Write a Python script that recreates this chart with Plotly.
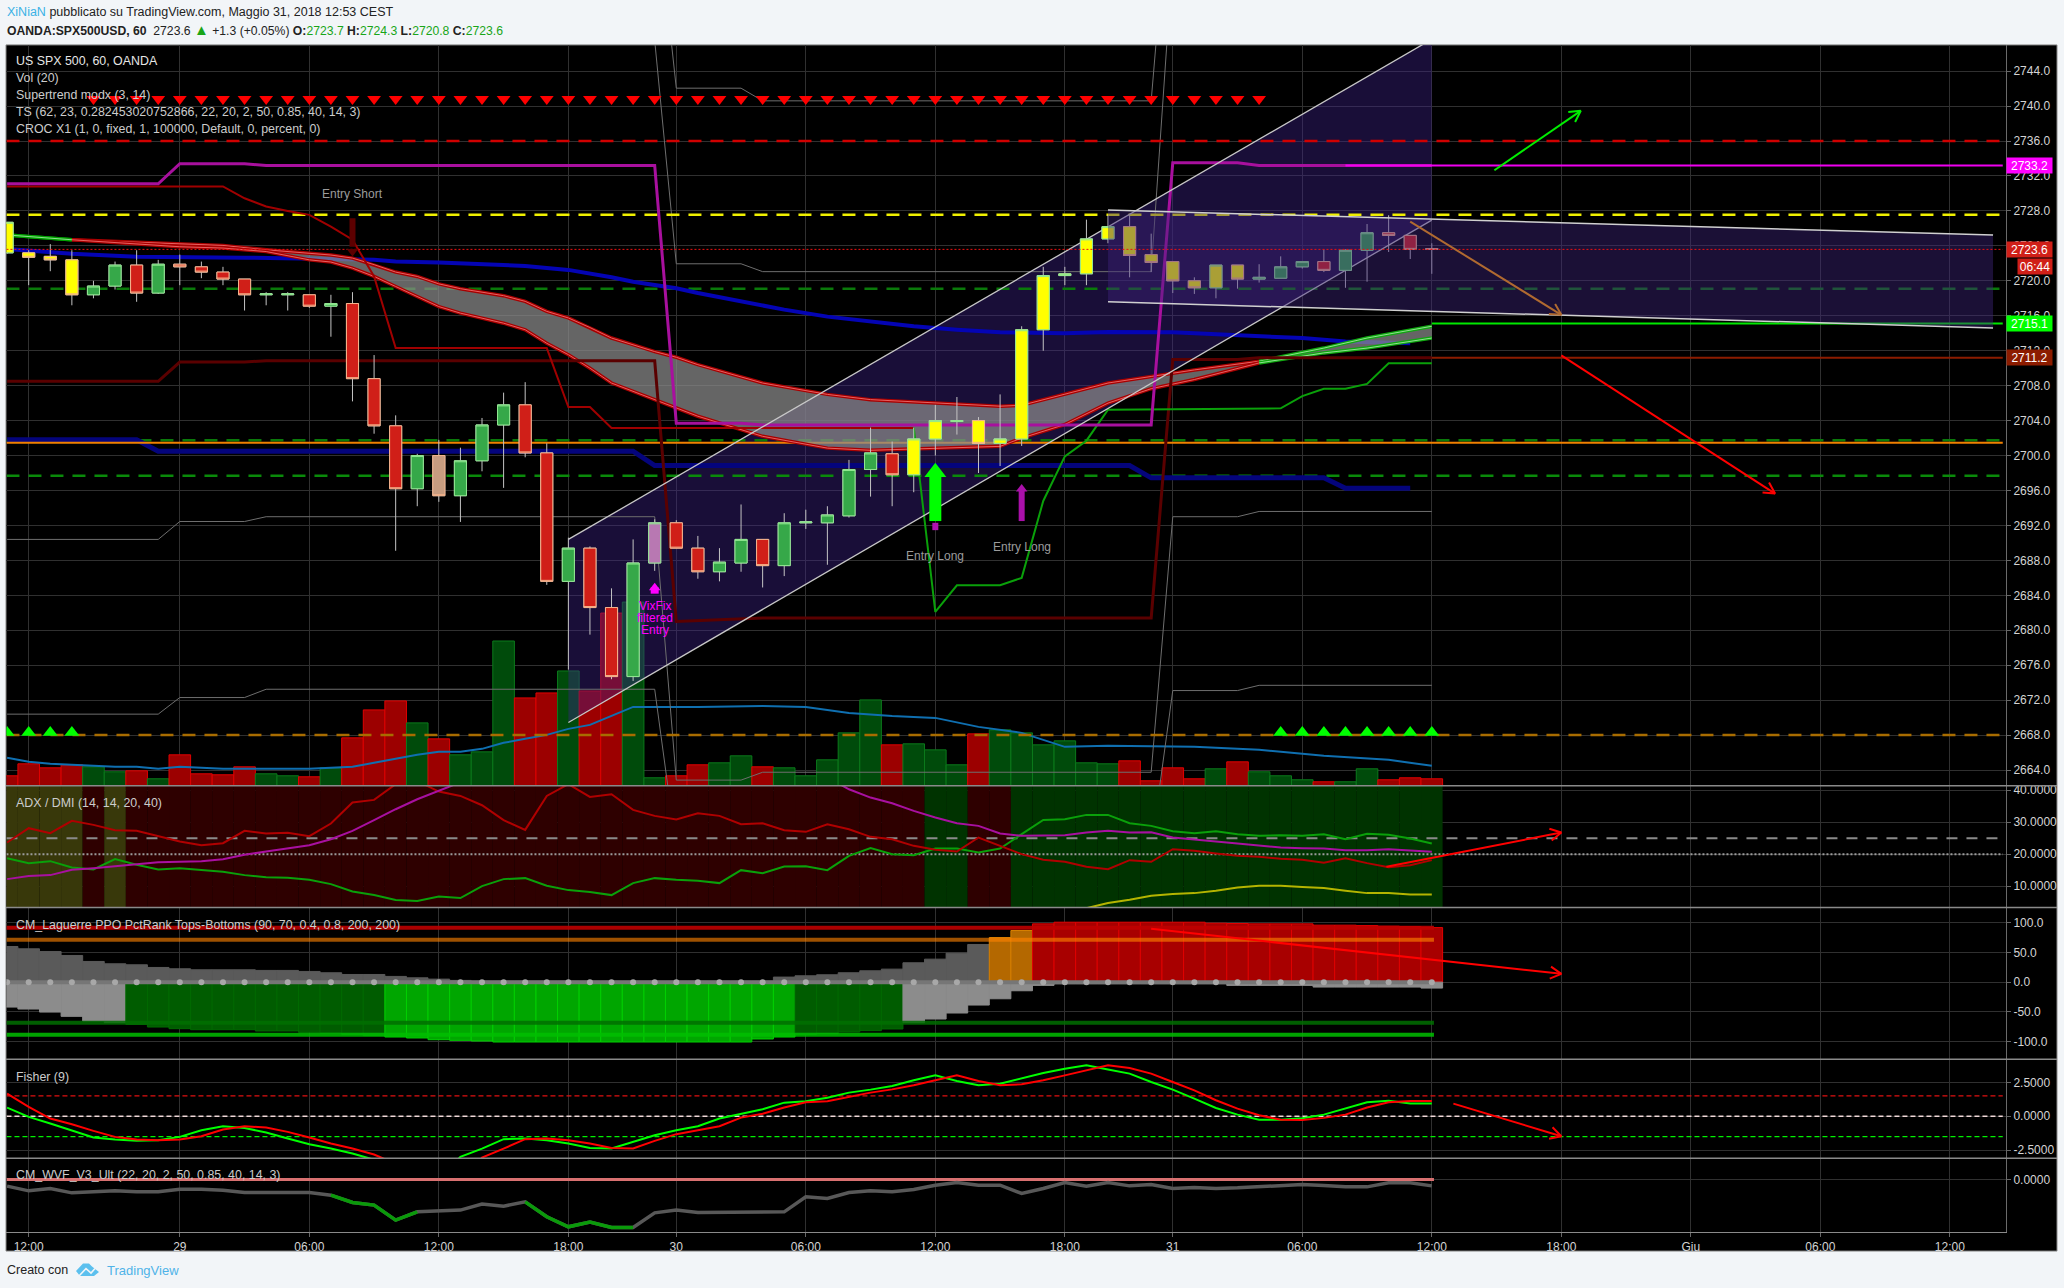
import plotly.graph_objects as go

W, H = 2064, 1288
L_PX, R_PX = 6.4, 2006.0
def px(x): return x / W
def py(y): return 1 - y / H

# ---------- time axis ----------
bar_x = list(range(-1, 66))
tick_pos = [0, 7, 13, 19, 25, 30, 36, 42, 48, 53, 59, 65, 71, 77, 83, 89]
tick_lab = ["12:00", "29", "06:00", "12:00", "18:00", "30", "06:00", "12:00", "18:00", "31", "06:00", "12:00", "18:00", "Giu", "06:00", "12:00"]
X_RANGE = [-1.033, 91.6]
X_END = 91.45

# ---------- candles ----------
open_ = [2723.2,2723.2,2722.8,2722.4,2718.4,2719.4,2721.8,2718.6,2721.9,2721.6,2721.0,2720.2,2718.4,2718.4,2718.4,2717.1,2717.4,2708.8,2703.4,2696.2,2700.0,2695.4,2699.4,2703.5,2705.8,2700.3,2685.6,2689.4,2682.6,2674.7,2687.7,2692.3,2689.4,2686.7,2687.7,2690.4,2687.4,2692.3,2692.3,2693.1,2698.4,2700.2,2697.8,2701.9,2703.9,2704.0,2701.4,2701.9,2714.4,2720.6,2720.8,2724.8,2726.2,2723.0,2722.2,2720.0,2719.2,2721.8,2720.2,2720.3,2721.6,2722.2,2721.2,2723.5,2725.5,2725.2,2723.7]
high_ = [2726.7,2723.5,2724.2,2723.5,2720.0,2722.2,2723.5,2722.4,2723.0,2722.2,2721.6,2720.2,2718.7,2718.7,2718.4,2718.4,2718.7,2711.5,2704.6,2700.2,2701.8,2700.9,2704.3,2707.2,2708.4,2701.4,2690.6,2689.6,2684.8,2690.4,2692.7,2692.6,2690.8,2689.4,2694.4,2690.4,2693.4,2693.8,2694.2,2699.5,2703.2,2701.6,2703.2,2705.8,2706.7,2704.4,2707.0,2714.8,2721.6,2721.6,2727.0,2727.5,2727.5,2725.4,2722.2,2720.4,2721.8,2721.8,2721.9,2722.8,2722.2,2723.6,2723.6,2726.5,2727.5,2725.2,2724.3]
low_ = [2723.1,2719.5,2721.1,2717.2,2718.0,2719.0,2717.6,2718.5,2719.5,2720.3,2719.5,2716.6,2717.2,2716.6,2716.9,2713.6,2706.2,2702.5,2689.1,2694.2,2694.7,2692.4,2698.2,2696.3,2699.8,2685.2,2675.5,2679.5,2674.4,2674.2,2686.8,2689.4,2685.9,2685.6,2686.7,2684.9,2686.2,2691.6,2687.5,2692.9,2695.3,2694.2,2695.8,2700.0,2702.4,2698.0,2698.8,2701.1,2712.0,2719.5,2719.5,2724.3,2720.4,2721.0,2718.6,2718.5,2718.0,2719.1,2719.8,2720.3,2721.4,2721.0,2719.2,2719.9,2723.3,2722.5,2720.8]
close_ = [2726.7,2722.7,2722.4,2718.4,2719.4,2721.8,2718.6,2721.9,2721.6,2721.0,2720.2,2718.4,2718.5,2718.5,2717.1,2717.4,2708.8,2703.4,2696.2,2700.0,2695.4,2699.4,2703.5,2705.8,2700.3,2685.6,2689.4,2682.6,2674.7,2687.7,2692.3,2689.4,2686.7,2687.8,2690.4,2687.4,2692.3,2692.4,2693.2,2698.4,2700.3,2697.8,2701.9,2704.0,2704.0,2701.4,2701.9,2714.4,2720.6,2720.8,2724.8,2726.2,2722.9,2722.1,2720.0,2719.2,2721.8,2720.2,2720.4,2721.6,2722.2,2721.2,2723.5,2725.5,2725.2,2723.6,2723.6]
candle_kind = "yyyyggrgrrrrggrgrrrgTgggrrgrrgPrrggrggggg" + "ryygyyyyyyyyyyyyygggrggrrr"
candle_fill = {"y": "#ffff00", "g": "#36a849", "r": "#d01f18", "T": "#c79c80", "P": "#b878b2"}

# ---------- volume ----------
volume = [10,22,18,21,19,14,15,7,31,12,11,19,12,10,9,18,48,76,85,63,47,31,34,145,88,93,115,95,173,184,8,10,21,23,30,19,18,10,26,53,86,41,42,36,21,52,56,53,41,45,23,22,25,5,18,7,17,24,14,10,6,4,4,17,6,8,7]
volume_kind = "rrrrggrgrrrrggrgrrrgrgggrrgrrggrrggrgggggrgggrggggggrrrrgrgggrggrrr"
vol_ma_x = [-1,0,1,2,3,4,5,6,7,8,9,10,11,12,13,14,15,16,17,18,19,20,21,22,23,24,25,26,27,28,29,31,34,36,38,40,42,44,46,48,50,54,57,60,63,65]
vol_ma = [28,24,22,21,20,19,19,17,19,18,17,17,17,17,17,18,19,23,27,31,34,34,37,43,47,51,57,61,70,79,79,79,80,79,73,70,68,59,53,39,40,39,36,30,26,20]

# ---------- price-panel levels and study lines ----------
level_red = 2736.0
level_yellow = 2727.55
level_green1 = 2719.1
level_green2 = 2701.75
level_orange = 2701.45
level_green3 = 2697.7
level_amber = 2668.0
last_price = 2723.6

st_x = [-1, 6, 7, 10, 11, 29, 30, 33, 34, 52, 53, 56, 57, 65]
st_y = [2731.1, 2731.1, 2733.4, 2733.4, 2733.2, 2733.2, 2703.7, 2703.7, 2703.5, 2703.5, 2733.5, 2733.5, 2733.2, 2733.2]
maroon_x = [-1, 6, 7, 10, 11, 29, 30, 34, 52, 53, 56, 57, 65]
maroon_y = [2708.5, 2708.5, 2710.7, 2710.7, 2710.85, 2710.85, 2681.0, 2681.4, 2681.4, 2711.0, 2711.0, 2711.2, 2711.2]
dkred_x = [-1, 9, 10, 11, 12, 13, 14, 15, 16, 17, 24, 25, 26, 27, 41]
dkred_y = [2730.8, 2730.8, 2729.45, 2728.5, 2728.0, 2727.55, 2726.2, 2724.7, 2720.5, 2712.3, 2712.3, 2705.55, 2705.55, 2703.15, 2703.15]
grn_x = [41, 42, 43, 45, 46, 47, 48, 49, 50, 58, 59, 60, 61, 62, 63, 65]
grn_y = [2703.2, 2682.1, 2685.15, 2685.15, 2686.0, 2694.8, 2699.9, 2701.7, 2705.25, 2705.4, 2706.8, 2707.65, 2707.65, 2708.2, 2710.55, 2710.55]
gray_a_x = [-1, 6, 7, 10, 11, 29, 30, 33, 34, 52, 53, 56, 57, 65]
gray_a_y = [2690.4, 2690.4, 2692.45, 2692.45, 2693.0, 2693.0, 2662.85, 2662.85, 2663.75, 2663.75, 2693.0, 2693.0, 2693.6, 2693.6]
gray_b_x = [-1, 6, 7, 10, 11, 29, 30, 52, 53, 56, 57, 65]
gray_b_y = [2670.4, 2670.4, 2672.3, 2672.3, 2673.25, 2673.25, 2655.0, 2655.0, 2673.1, 2673.1, 2673.7, 2673.7]
gray_c_x = [29, 30, 33, 34, 52, 53]
gray_c_y = [2765.0, 2742.05, 2742.05, 2740.6, 2740.6, 2770.0]
gray_d_x = [29, 30, 33, 34, 52, 53]
gray_d_y = [2747.5, 2721.95, 2721.95, 2721.05, 2721.05, 2757.0]
navy1_x = [-1, 2, 5, 7, 10, 16, 17, 19, 22, 23, 25, 26, 27, 28, 29, 30, 31, 33, 35, 37, 39, 41, 43, 45, 48, 50, 53, 55, 57, 59, 61, 64]
navy1_y = [2723.65, 2723.1, 2722.75, 2722.75, 2722.65, 2722.4, 2722.2, 2722.1, 2721.85, 2721.7, 2721.25, 2720.85, 2720.4, 2719.9, 2719.55, 2719.15, 2718.6, 2717.65, 2716.7, 2715.9, 2715.35, 2714.8, 2714.4, 2714.1, 2714.0, 2714.15, 2714.1, 2713.9, 2713.65, 2713.45, 2713.05, 2712.85]
navy2_x = [-1, 5, 6, 28, 29, 51, 52, 60, 61, 64]
navy2_y = [2701.8, 2701.8, 2700.5, 2700.5, 2698.85, 2698.85, 2697.45, 2697.45, 2696.25, 2696.25]

cloud_x = [-1,2,7,9,11,13,14,15,16,17,18,19,20,21,22,23,24,25,26,27,28,29,30,31,34,37,39,42,45,46,48,50,52,54,57,60,62,65]
cloud_up = [2725.25,2724.7,2724.25,2724.05,2723.55,2723.15,2722.95,2722.6,2721.85,2721.0,2720.5,2719.65,2719.1,2718.7,2718.3,2717.65,2716.5,2715.75,2714.65,2713.45,2712.7,2711.9,2711.25,2710.4,2708.3,2707.0,2706.4,2706.0,2705.65,2705.75,2707.0,2708.3,2709.05,2709.8,2710.8,2712.3,2713.45,2714.8]
cloud_lo = [2725.25,2724.7,2723.9,2723.75,2723.35,2722.4,2722.15,2721.45,2720.5,2719.35,2718.2,2717.05,2716.3,2715.75,2715.15,2714.4,2712.85,2711.55,2710.0,2708.3,2707.35,2706.4,2705.45,2704.5,2702.2,2700.85,2700.6,2700.85,2701.05,2702.0,2703.55,2706.0,2707.65,2708.7,2710.6,2711.75,2712.3,2713.45]
cloud_red_from, cloud_red_to = 1, 34   # positions in cloud_x where the ribbon turns red / green again

chan1_x = [25, 65]
chan1_up = [2690.4, 2747.65]
chan1_lo = [2669.45, 2726.95]
chan2_x = [50, 91]
chan2_up = [2728.1, 2725.25]
chan2_lo = [2717.6, 2714.6]

tri_dn_x = list(range(3, 58))
tri_dn_y = 2740.8
tri_up_x = [-1, 0, 1, 2, 58, 59, 60, 61, 62, 63, 64, 65]
tri_up_y = 2668.3

# ---------- ADX / DMI ----------
adx_state = "oooorO" .replace("O", "o") + "r" * 37 + "gg" + "rr" + "g" * 20
di_minus = [23.65,28.13,26.56,30.42,29.17,27.5,27.29,25.73,23.96,22.81,23.44,27.29,26.46,26.67,25.63,29.58,36.15,36.98,41.9,42.9,39.58,38.23,35.31,30.63,27.6,38.23,41.9,37.92,38.75,33.85,31.98,30.83,32.81,31.98,29.38,29.69,27.5,26.98,29.38,27.81,25.42,24.69,22.6,21.35,20.83,25.21,22.6,20.0,18.23,17.6,16.04,15.31,18.13,17.6,21.56,21.04,20.21,19.48,19.17,18.54,18.23,17.29,18.75,17.19,15.94,16.56,18.13]
di_plus = [18.75,17.19,17.81,15.83,15.21,18.44,16.67,15.21,15.63,15.0,14.48,13.44,12.81,12.6,11.98,10.63,8.33,7.19,5.63,5.31,6.77,6.25,10.0,12.19,12.5,10.1,8.75,8.13,7.19,10.94,12.5,11.98,11.67,10.94,15.0,14.06,16.15,16.25,15.0,19.48,21.88,20.0,19.69,21.77,21.77,20.52,21.77,26.25,30.73,30.94,32.29,32.29,29.69,28.85,27.19,26.56,27.19,26.25,25.73,25.94,25.73,26.25,24.69,26.35,26.04,24.9,23.33]
adx_x = [-1,0,1,2,3,4,5,6,7,8,9,10,11,12,13,14,15,16,17,18,19,20,21,37,38,39,40,41,42,43,44,45,46,47,48,49,50,51,52,53,54,55,56,57,58,59,60,61,62,63,64,65]
adx_val = [12.19,13.13,13.44,15.1,15.63,16.15,16.88,17.5,17.71,17.81,18.44,19.79,20.83,21.88,22.81,24.69,27.29,30.63,34.06,37.19,39.79,42.5,46.0,44.0,40.3,37.71,35.94,33.54,31.46,29.69,28.85,26.46,25.73,25.73,25.94,26.77,27.29,26.77,26.88,25.21,24.48,23.96,23.33,22.71,22.08,21.88,21.77,21.25,21.25,21.56,21.25,20.73]
adxr_x = [48,49,50,51,52,53,54,55,56,57,58,59,60,61,62,63,64,65]
adxr_val = [1.5,3.2,4.69,5.73,6.98,7.5,7.81,8.54,9.58,10.1,10.1,9.69,9.38,8.54,7.81,7.81,7.4,7.4]
adx_levels = [25, 20]

# ---------- Laguerre ----------
lag_top = [60,56.1,51.6,44.9,34.8,30.9,29.2,24.7,22.5,20.8,20.8,20.8,19.7,19.7,18,15.8,12.9,12.9,9.6,7.3,5.1,2.9,1.7,1.7,1.7,1.7,1.7,1.7,1.7,1.7,1.7,1.7,1.7,1.7,1.7,1.7,8.5,10.7,12.4,15.8,19.1,21.9,32.6,38.7,48.8,63.4,75.1,86.9,98.1,100.9,100.9,100.9,100.9,100.9,100.9,100.9,99.2,98.7,98.1,98.1,98.1,95.9,95.9,95.3,94.2,93.6,91.9]
lag_bot = [-42,-45.3,-50.4,-57.6,-65.5,-68.3,-71.1,-75.6,-78.4,-80.1,-80.1,-80.1,-82.3,-82.3,-84.5,-85.6,-87.9,-90.1,-92.4,-94,-96.9,-98,-99.1,-100.8,-100.8,-100.8,-100.8,-100.8,-100.8,-100.8,-100.8,-100.8,-100.8,-100.8,-100.8,-95.7,-92.4,-87.9,-86.8,-84,-81.7,-78.9,-68.3,-62.1,-52,-38.6,-28,-14.5,-5.5,-2.7,-2.7,-2.7,-2.7,-2.7,-2.7,-2.7,-2.7,-5.5,-5.5,-5.5,-5.5,-8.3,-8.3,-8.3,-8.3,-8.3,-10]
lag_top_kind = "d" * 46 + "oo" + "R" * 19
lag_bot_kind = "l" * 6 + "G" * 12 + "B" * 19 + "G" * 5 + "l" * 25
lag_zero = [0] * 67
lag_lines = [91.4, 71.2, -68.3, -88.5]

# ---------- Fisher ----------
fisher = [0.64,-0.05,-0.54,-1.08,-1.57,-1.72,-1.81,-1.77,-1.52,-1.03,-0.74,-0.86,-1.20,-1.64,-2.06,-2.38,-2.75,-3.2,-3.9,-4.6,-4.6,-2.99,-2.38,-1.69,-1.64,-1.77,-2.01,-2.33,-2.38,-1.89,-1.40,-1.03,-0.74,-0.17,0.15,0.51,1.00,1.10,1.37,1.74,1.96,2.23,2.65,3.01,2.60,2.28,2.40,2.77,3.19,3.50,3.75,3.45,3.14,2.52,1.96,1.30,0.61,0.12,-0.25,-0.25,-0.15,0.12,0.56,1.03,1.15,0.93,0.93]
trigger = [1.67,0.69,-0.17,-0.59,-1.08,-1.52,-1.72,-1.77,-1.72,-1.47,-0.98,-0.74,-0.83,-1.15,-1.57,-2.01,-2.38,-2.82,-3.5,-4.2,-4.9,-4.9,-3.04,-2.38,-1.69,-1.64,-1.77,-2.01,-2.33,-2.38,-1.81,-1.32,-1.03,-0.74,-0.10,0.19,0.64,1.03,1.10,1.42,1.74,1.98,2.28,2.65,3.01,2.60,2.28,2.35,2.65,3.01,3.38,3.75,3.55,3.14,2.52,1.91,1.18,0.56,0.07,-0.25,-0.27,-0.12,0.12,0.64,1.03,1.13,1.13]
fisher_levels = [1.5, 0.0, -1.5]

# ---------- WVF ----------
wvf = [-6.7,-11.4,-9.0,-13.4,-12.4,-11.4,-12.4,-12.4,-9.7,-9.7,-10.7,-13,-13,-13,-13,-15.7,-23,-25.7,-40.7,-32.4,-31.4,-30.7,-24.7,-26.7,-22.4,-37.4,-47.4,-42.7,-48,-48,-33.4,-30.7,-33,-33,-32.4,-33,-32.4,-17.4,-19,-13,-11.4,-12.4,-10,-5.7,-3,-5.7,-5.7,-14,-9,-3,-6.7,-3,-6.4,-5,-9,-8,-9,-8.4,-7.4,-6.4,-5,-6,-7.4,-7.4,-3.4,-3.4,-6.4]
wvf_green1 = (14, 18)   # bars coloured green
wvf_green2 = (23, 28)

# ---------- hand-drawn arrows: start bar, start value, tip bar, tip value, colour, axis, px-per-unit ----------
arrows = [
    (67.9, 2732.66, 71.9, 2739.46, "#00ee00", "y7", 8.75),
    (64.0, 2726.78, 71.0, 2716.11, "#b06a30", "y7", 8.75),
    (71.0, 2711.46, 80.9, 2695.65, "#ff0000", "y7", 8.75),
    (62.9, 16.04, 71.0, 26.77, "#ff0000", "y3", 3.2),
    (52.0, 89.7, 71.0, 14.0, "#ff0000", "y4", 0.595),
    (66.0, 0.93, 71.0, -1.47, "#ff0000", "y5", 13.6),
]

Y_MAIN = [2662.2, 2747.0]
Y_VOL = [0, 742]
Y_ADX = [3.28, 41.4]
Y_LAG = [-130.0, 125.5]
Y_FIS = [-3.09, 4.19]
Y_WVF = [-52.7, 21.3]
main_ticks = list(range(2664, 2748, 4))

fig = go.Figure()
def line(x, y, axis, color, width=1.0, dash=None, shape="linear"):
    fig.add_trace(go.Scatter(x=x, y=y, xaxis="x", yaxis=axis, mode="lines",
                             line=dict(color=color, width=width, dash=dash, shape=shape),
                             hoverinfo="skip", showlegend=False))
FULL = [-1.03, X_END]

# volume (base layer)
fig.add_trace(go.Bar(x=bar_x, y=volume, xaxis="x", yaxis="y", width=1,
                     marker=dict(color=["#9c0000" if k == "r" else "#004b0b" for k in volume_kind],
                                 line=dict(color=["#e00000" if k == "r" else "#0b7a1c" for k in volume_kind], width=1)),
                     hoverinfo="skip", showlegend=False))
line(vol_ma_x, vol_ma, "y", "#0f6fb0", 2)

# study layer under the candles
fig.add_trace(go.Scatter(x=[chan1_x[0], chan1_x[1], chan1_x[1], chan1_x[0]],
                         y=[chan1_up[0], chan1_up[1], chan1_lo[1], chan1_lo[0]],
                         xaxis="x", yaxis="y2", mode="lines", fill="toself", line=dict(width=0),
                         fillcolor="rgba(62,36,140,0.40)", hoverinfo="skip", showlegend=False))
line(gray_a_x, gray_a_y, "y2", "#6e6e6e", 1)
line(gray_b_x, gray_b_y, "y2", "#6e6e6e", 1)
line(gray_c_x, gray_c_y, "y2", "#6e6e6e", 1)
line(gray_d_x, gray_d_y, "y2", "#6e6e6e", 1)
line(FULL, [level_red] * 2, "y2", "#d00000", 2.5, "13px,9px")
line(FULL, [level_yellow] * 2, "y2", "#f0f000", 2.5, "13px,9px")
line(FULL, [level_green1] * 2, "y2", "#0a7a0a", 2.5, "13px,9px")
line(FULL, [level_green2] * 2, "y2", "#0a7a0a", 2.5, "13px,9px")
line(FULL, [level_green3] * 2, "y2", "#0a8a0a", 2.5, "13px,9px")
line(FULL, [level_amber] * 2, "y2", "#a86c00", 2.5, "13px,9px")
line(navy2_x, navy2_y, "y2", "#04047c", 5)
line(navy1_x, navy1_y, "y2", "#0404b4", 4)
line(FULL, [level_orange] * 2, "y2", "#f08000", 2)
fig.add_trace(go.Scatter(x=cloud_x + cloud_x[::-1], y=cloud_up + cloud_lo[::-1], xaxis="x", yaxis="y2",
                         mode="lines", fill="toself", line=dict(width=0),
                         fillcolor="rgba(140,140,140,0.72)", hoverinfo="skip", showlegend=False))
a, b = cloud_red_from, cloud_red_to + 1
for ys in (cloud_up, cloud_lo):
    line(cloud_x[a:b], ys[a:b], "y2", "#a80000", 3.5)
    line(cloud_x[a:b], ys[a:b], "y2", "#e86060", 1)
    line(cloud_x[:a + 1], ys[:a + 1], "y2", "#00a000", 3.5)
    line(cloud_x[b - 1:], ys[b - 1:], "y2", "#10a810", 3.5)
    line(cloud_x[:a + 1], ys[:a + 1], "y2", "#90e090", 1)
    line(cloud_x[b - 1:], ys[b - 1:], "y2", "#90e090", 1)
line(maroon_x, maroon_y, "y2", "#5a0000", 3)
line(dkred_x, dkred_y, "y2", "#a00000", 2)
line(grn_x, grn_y, "y2", "#0aa00a", 2)
line(st_x, st_y, "y2", "#a8109e", 3)
line([61, X_END], [2733.2] * 2, "y2", "#f000f0", 2)
line([65, X_END], [2711.2] * 2, "y2", "#8c1c00", 2)
line([65, X_END], [2715.1] * 2, "y2", "#00e800", 2)
line(chan1_x, chan1_up, "y2", "#c8c8c8", 1.3)
line(chan1_x, chan1_lo, "y2", "#c8c8c8", 1.3)

# candles: wicks, then bodies by colour
fig.add_trace(go.Candlestick(x=bar_x, open=open_, high=high_, low=low_, close=close_, xaxis="x", yaxis="y7",
                             whiskerwidth=0,
                             increasing=dict(line=dict(color="#c4c4c4", width=1), fillcolor="rgba(0,0,0,0)"),
                             decreasing=dict(line=dict(color="#c4c4c4", width=1), fillcolor="rgba(0,0,0,0)"),
                             hoverinfo="skip", showlegend=False))
for kind, col in candle_fill.items():
    o = [v if k == kind else None for v, k in zip(open_, candle_kind)]
    c = [v if k == kind else None for v, k in zip(close_, candle_kind)]
    hi = [None if p is None else max(p, q) for p, q in zip(o, c)]
    lo = [None if p is None else min(p, q) for p, q in zip(o, c)]
    fig.add_trace(go.Candlestick(x=bar_x, open=o, high=hi, low=lo, close=c, xaxis="x", yaxis="y7",
                                 whiskerwidth=0,
                                 increasing=dict(line=dict(color="#90e890", width=1), fillcolor=col),
                                 decreasing=dict(line=dict(color="#f6b48c", width=1), fillcolor=col),
                                 hoverinfo="skip", showlegend=False))

# things over the candles
fig.add_trace(go.Scatter(x=[chan2_x[0], chan2_x[1], chan2_x[1], chan2_x[0]],
                         y=[chan2_up[0], chan2_up[1], chan2_lo[1], chan2_lo[0]],
                         xaxis="x", yaxis="y7", mode="lines", fill="toself", line=dict(width=0),
                         fillcolor="rgba(61,36,123,0.44)", hoverinfo="skip", showlegend=False))
line(chan2_x, chan2_up, "y7", "#d0d0d0", 1.5)
line(chan2_x, chan2_lo, "y7", "#d0d0d0", 1.5)
line([-1.03, X_END], [last_price] * 2, "y7", "#f01010", 1, "2px,2px")

def marks(x, y, sym, col, size, axis="y7"):
    fig.add_trace(go.Scatter(x=x, y=y, xaxis="x", yaxis=axis, mode="markers",
                             marker=dict(symbol=sym, color=col, size=size, line=dict(width=0)),
                             hoverinfo="skip", showlegend=False))
marks(tri_dn_x, [tri_dn_y] * len(tri_dn_x), "triangle-down", "#ff0000", 12)
marks(tri_up_x, [tri_up_y] * len(tri_up_x), "triangle-up", "#00ff00", 13)
# entry arrows
line([15, 15], [2727.16, 2723.9], "y7", "#5c0000", 6)
marks([15], [2723.35], "triangle-down", "#5c0000", 10)
line([42, 42], [2691.46, 2692.3], "y7", "#b010b0", 6)
line([42, 42], [2692.5, 2697.6], "y7", "#00ff00", 12)
marks([42], [2698.08], "triangle-up", "#00ff00", 19)
line([46, 46], [2692.5, 2696.0], "y7", "#aa10aa", 6)
marks([46], [2696.17], "triangle-up", "#aa10aa", 10)
line([29, 29], [2684.19, 2684.9], "y7", "#ff00ff", 8)
marks([29], [2684.87], "triangle-up", "#ff00ff", 10)

# ADX panel
adx_colors = {"o": "#38380a", "r": "#2e0000", "g": "#003300"}
fig.add_trace(go.Bar(x=bar_x, y=[Y_ADX[1] - Y_ADX[0]] * 67, base=Y_ADX[0], xaxis="x", yaxis="y3", width=1,
                     marker=dict(color=[adx_colors[s] for s in adx_state], line=dict(width=0)),
                     hoverinfo="skip", showlegend=False))
line(FULL, [adx_levels[0]] * 2, "y3", "#8a8a8a", 2, "11px,9px")
line(FULL, [adx_levels[1]] * 2, "y3", "#9a9a9a", 2, "2px,2px")
line(bar_x, di_plus, "y3", "#0aa00a", 2)
line(bar_x, di_minus, "y3", "#b00000", 2)
line(adx_x, adx_val, "y3", "#a810a0", 2)
line(adxr_x, adxr_val, "y3", "#b4b400", 2)

# Laguerre panel
top_c = {"d": "#5a5a5a", "o": "#b46800", "R": "#a80000"}
top_l = {"d": "#5a5a5a", "o": "#d88000", "R": "#e00000"}
bot_c = {"l": "#8c8c8c", "G": "#005c00", "B": "#00a600"}
bot_l = {"l": "#8c8c8c", "G": "#006a00", "B": "#00d000"}
fig.add_trace(go.Bar(x=bar_x, y=lag_top, xaxis="x", yaxis="y4", width=1,
                     marker=dict(color=[top_c[k] for k in lag_top_kind], line=dict(color=[top_l[k] for k in lag_top_kind], width=1)),
                     hoverinfo="skip", showlegend=False))
fig.add_trace(go.Bar(x=bar_x, y=lag_bot, xaxis="x", yaxis="y4", width=1,
                     marker=dict(color=[bot_c[k] for k in lag_bot_kind], line=dict(color=[bot_l[k] for k in lag_bot_kind], width=1)),
                     hoverinfo="skip", showlegend=False))
line([-1.03, 65.1], [lag_lines[0]] * 2, "y4", "rgba(190,0,0,0.9)", 4)
line([-1.03, 65.1], [lag_lines[1]] * 2, "y4", "rgba(255,130,0,0.62)", 4)
line([-1.03, 65.1], [lag_lines[2]] * 2, "y4", "rgba(0,110,0,0.85)", 4)
line([-1.03, 65.1], [lag_lines[3]] * 2, "y4", "rgba(0,190,0,0.85)", 4)
line(bar_x, lag_zero, "y4", "#767676", 4)
marks(bar_x, lag_zero, "circle", "#a8a8a8", 6, "y4")

# Fisher panel
line(FULL, [fisher_levels[0]] * 2, "y5", "#e01010", 1.3, "5px,3px")
line(FULL, [fisher_levels[1]] * 2, "y5", "#f0d8d8", 1.3, "5px,3px")
line(FULL, [fisher_levels[2]] * 2, "y5", "#00f000", 1.3, "5px,3px")
line(bar_x, fisher, "y5", "#00ff00", 2)
line(bar_x, trigger, "y5", "#ff0000", 2)

# WVF panel
line([-1.03, 65.1], [0, 0], "y6", "#d87070", 3)
line(bar_x, wvf, "y6", "#585858", 3.5)
for s, e in (wvf_green1, wvf_green2):
    line(bar_x[s + 1:e + 2], wvf[s + 1:e + 2], "y6", "#0a9a0a", 3.5)

# drawn arrows with open heads
SPX = (R_PX - L_PX) / (X_RANGE[1] - X_RANGE[0])
for x0, y0, x1, y1, col, ax, sy in arrows:
    dx, dy = (x1 - x0) * SPX, (y1 - y0) * sy
    n = (dx * dx + dy * dy) ** 0.5
    ux, uy = dx / n, dy / n
    hl, hw = 11, 6
    bx1 = (x1 * SPX - hl * ux - hw * uy) / SPX
    by1 = (y1 * sy - hl * uy + hw * ux) / sy
    bx2 = (x1 * SPX - hl * ux + hw * uy) / SPX
    by2 = (y1 * sy - hl * uy - hw * ux) / sy
    line([x0, x1, None, bx1, x1, bx2], [y0, y1, None, by1, y1, by2], ax, col, 2)

def dom(t, b): return [py(b), py(t)]
noz = dict(showgrid=False, zeroline=False, showticklabels=False, ticks="", fixedrange=True)
GRID = "#303030"
def yax(t, b, rng, vals, labs):
    return dict(domain=dom(t, b), range=rng, anchor="x", side="right", tickmode="array", tickvals=vals, ticktext=labs,
                showgrid=True, gridcolor=GRID, gridwidth=1, zeroline=False, ticks="outside", ticklen=4, tickcolor="#666666",
                showline=True, linecolor="#6a6a6a", linewidth=1, tickfont=dict(family="Liberation Sans", size=12, color="#d4d4d4"))

layout = dict(
    width=W, height=H, margin=dict(l=0, r=0, t=0, b=0), paper_bgcolor="#f2f5f8", plot_bgcolor="#000000",
    barmode="overlay", boxgap=0.44, boxgroupgap=0, showlegend=False, hovermode=False,
    xaxis=dict(domain=[px(L_PX), px(R_PX)], range=X_RANGE, anchor="y6", tickmode="array", tickvals=tick_pos, ticktext=tick_lab,
               showgrid=True, gridcolor=GRID, zeroline=False, ticks="outside", ticklen=4, tickcolor="#666666",
               showline=True, linecolor="#8a8a8a", rangeslider=dict(visible=False),
               tickfont=dict(family="Liberation Sans", size=12, color="#d4d4d4")),
    yaxis=dict(domain=dom(43, 785), range=Y_VOL, anchor="x", **noz),
    yaxis2=dict(overlaying="y", range=Y_MAIN, anchor="x", side="right", **noz),
    yaxis7=yax(43, 785, Y_MAIN, main_ticks, [f"{v}.0" for v in main_ticks]) | dict(overlaying="y"),
    yaxis3=yax(785, 907, Y_ADX, [40, 30, 20, 10], ["40.0000", "30.0000", "20.0000", "10.0000"]),
    yaxis4=yax(907, 1059, Y_LAG, [100, 50, 0, -50, -100], ["100.0", "50.0", "0.0", "-50.0", "-100.0"]),
    yaxis5=yax(1059, 1158, Y_FIS, [2.5, 0, -2.5], ["2.5000", "0.0000", "-2.5000"]),
    yaxis6=yax(1158, 1232, Y_WVF, [0], ["0.0000"]),
)
fig.update_layout(**layout)

# frame and separators
shapes = [dict(type="rect", xref="paper", yref="paper", x0=px(6), x1=px(2057), y0=py(1251), y1=py(43),
               fillcolor="#000000", line=dict(color="#8a8a8a", width=1), layer="below")]
for yy in (785, 907, 1059, 1158):
    shapes.append(dict(type="line", xref="paper", yref="paper", x0=px(6), x1=px(2057), y0=py(yy), y1=py(yy),
                       line=dict(color="#8a8a8a", width=1.5), layer="above"))
# logo
logo_blue = [(76, 1271), (83, 1263.5), (89, 1263.5), (92, 1266.5), (99, 1272), (94, 1276), (80, 1276)]
logo_wave = [(79, 1276), (86, 1268.5), (91, 1273), (95, 1268.5)]
def path(pts, close=True):
    s = "M " + " L ".join(f"{px(a)} {py(b)}" for a, b in pts)
    return s + (" Z" if close else "")
shapes.append(dict(type="path", xref="paper", yref="paper", path=path(logo_blue), fillcolor="#5cc0ee", line=dict(width=0)))
shapes.append(dict(type="path", xref="paper", yref="paper", path=path(logo_wave, False), line=dict(color="#f2f5f8", width=1.6)))
fig.update_layout(shapes=shapes)

# texts
F = "Liberation Sans"
ann = []
def note(x, y, text, size=12, color="#dddddd", bg=None, anchor="left", w=None, h=None):
    d = dict(xref="paper", yref="paper", x=px(x), y=py(y), text=text, showarrow=False, xanchor=anchor, yanchor="middle",
             font=dict(family=F, size=size, color=color), borderpad=0)
    if bg: d["bgcolor"] = bg
    if w: d["width"] = w; d["align"] = "center"
    if h: d["height"] = h; d["valign"] = "middle"
    ann.append(d)
def dtext(i, p, text, color="#9c9c9c", size=12):
    ann.append(dict(xref="x", yref="y7", x=i, y=p, text=text, showarrow=False, font=dict(family=F, size=size, color=color)))

G = "#19a519"
note(6, 10.5, '<span style="color:#3ab2e6">XiNiaN</span> pubblicato su TradingView.com, Maggio 31, 2018 12:53 CEST', 12.5, "#222222")
note(6, 27.5, f'<b>OANDA:SPX500USD, 60</b>  2723.6 <span style="color:{G};font-size:15px">▲</span> +1.3 (+0.05%) <b>O:</b><span style="color:{G}">2723.7</span> <b>H:</b><span style="color:{G}">2724.3</span> <b>L:</b><span style="color:{G}">2720.8</span> <b>C:</b><span style="color:{G}">2723.6</span>', 12.2, "#222222")
note(15, 59, "US SPX 500, 60, OANDA", 12.4, "#e6e6e6")
note(15, 76.2, "Vol (20)", 12.4, "#cccccc")
note(15, 93.5, "Supertrend modx (3, 14)", 12.4, "#cccccc")
note(15, 110.2, "TS (62, 23, 0.282453020752866, 22, 20, 2, 50, 0.85, 40, 14, 3)", 12.4, "#cccccc")
note(15, 127.2, "CROC X1 (1, 0, fixed, 1, 100000, Default, 0, percent, 0)", 12.4, "#cccccc")
note(15, 802, "ADX / DMI (14, 14, 20, 40)", 12.4, "#cccccc")
note(15, 924, "CM_Laguerre PPO PctRank Tops-Bottoms (90, 70, 0.4, 0.8, 200, 200)", 12.4, "#cccccc")
note(15, 1076.7, "Fisher (9)", 12.4, "#cccccc")
note(15, 1175, "CM_WVF_V3_Ult (22, 20, 2, 50, 0.85, 40, 14, 3)", 12.4, "#cccccc")
note(6, 1270, "Creato con", 12.5, "#222222")
note(106, 1270, "TradingView", 13, "#4fb3e8")
note(2006, 163.5, "2733.2", 12, "#ffffff", "#ff00ff", w=45, h=15)
note(2006, 247.5, "2723.6", 12, "#ffffff", "#d01f18", w=45, h=15)
note(2017, 264.5, "06:44", 12, "#ffffff", "#d01f18", w=34, h=15)
note(2006, 321.5, "2715.1", 12, "#ffffff", "#00ff00", w=45, h=15)
note(2006, 356.5, "2711.2", 12, "#ffffff", "#8c1c00", w=45, h=15)
dtext(15, 2729.9, "Entry Short")
dtext(42, 2688.53, "Entry Long")
dtext(46, 2689.56, "Entry Long")
dtext(29, 2682.78, "VixFix", "#ff00ff")
dtext(29, 2681.45, "filtered", "#ff00ff")
dtext(29, 2680.03, "Entry", "#ff00ff")
fig.update_layout(annotations=ann)

fig.write_html("out.html", config={"displayModeBar": False}, post_script="document.body.style.margin='0';")
